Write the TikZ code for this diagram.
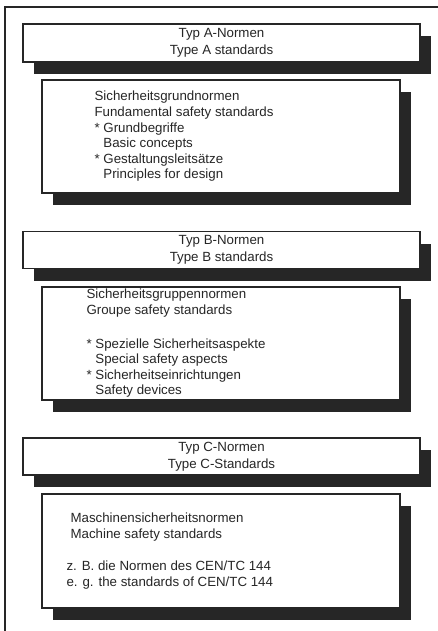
\documentclass[tikz,border=0pt]{standalone}
\usepackage{fontspec}
\setmainfont{Liberation Sans}
\usetikzlibrary{shadows,positioning}
\definecolor{inkgray}{HTML}{262626}

\begin{document}
\begin{tikzpicture}[x=1pt, y=-1pt,
  every node/.style={font=\fontsize{13.3}{15.6}\selectfont, text=inkgray},
  headbox/.style={draw=inkgray, line width=1.3pt, fill=white, minimum width=397pt, inner sep=0pt, align=center,
    font=\fontsize{13.3}{17}\selectfont,
    drop shadow={shadow xshift=11pt, shadow yshift=-12pt, opacity=1, fill=inkgray}},
  panel/.style={draw=inkgray, line width=1.3pt, fill=white, minimum width=358pt, inner sep=0pt,
    drop shadow={shadow xshift=11pt, shadow yshift=-12pt, opacity=1, fill=inkgray}},
  paneltext/.style={anchor=west, align=left, inner sep=0pt}]
  \useasboundingbox (0,0) rectangle (438,631);
  \draw[inkgray, line width=1.5pt] (5,631) -- (5,7) -- (438,7);

  % Typ A
  \node[headbox, minimum height=38pt] (typA) at (221.5,43) {Typ A-Normen\\ Type A standards};
  \node[panel, minimum height=113pt] (grundA) at (221,136.5) {};
  \node[paneltext] (grundAtext) at ([xshift=53pt]grundA.west)
    {Sicherheitsgrundnormen\\ Fundamental safety standards\\ * Grundbegriffe\\ \phantom{*} Basic concepts\\
     * Gestaltungsleitsätze\\ \phantom{*} Principles for design};

  % Typ B
  \node[headbox, minimum height=37pt] (typB) at (221.5,250) {Typ B-Normen\\ Type B standards};
  \node[panel, minimum height=113pt] (gruppeB) at (221,343.5) {};
  \node[paneltext] (gruppeBtext) at ([xshift=45pt]gruppeB.west)
    {Sicherheitsgruppennormen\\ Groupe safety standards\\[18pt] * Spezielle Sicherheitsaspekte\\ \phantom{*} Special safety aspects\\
     * Sicherheitseinrichtungen\\ \phantom{*} Safety devices};

  % Typ C
  \node[headbox, minimum height=37pt] (typC) at (221.5,456.5) {Typ C-Normen\\ Type C-Standards};
  \node[panel, minimum height=114pt] (maschC) at (221,551) {};
  \node[paneltext] (maschCtext) at ([xshift=25pt]maschC.west)
    {\hspace*{4pt}Maschinensicherheitsnormen\\ \hspace*{4pt}Machine safety standards\\[17pt] z. B. die Normen des CEN/TC 144\\
     e. g. the standards of CEN/TC 144};
\end{tikzpicture}
\end{document}
